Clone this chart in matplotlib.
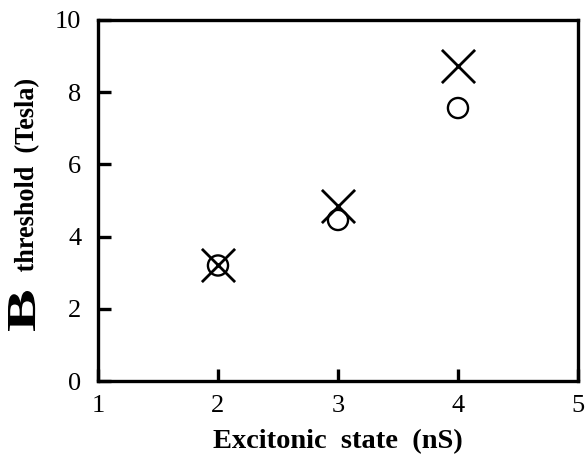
import matplotlib
matplotlib.use("Agg")
import matplotlib.pyplot as plt
from matplotlib.textpath import TextPath
from matplotlib.patches import PathPatch
from matplotlib.font_manager import FontProperties
import matplotlib.transforms as mtransforms

# threshold field vs excitonic state
states = [2, 3, 4]
b_cross = [3.2, 4.85, 8.73]
b_circle = [3.2, 4.46, 7.56]

plt.rcParams['font.family'] = ['Liberation Serif', 'DejaVu Serif']

fig = plt.figure(figsize=(5.85, 4.63), dpi=100)
ax = fig.add_axes([0.1675, 0.177, 0.8205, 0.78])

ax.scatter(states, b_cross, marker='x', s=570, c='black', linewidths=2.0, zorder=3)
ax.scatter(states, b_circle, marker='o', s=210, facecolors='none', edgecolors='black', linewidths=1.7, zorder=3)

ax.set_xlim(1, 5)
ax.set_ylim(0, 10)
ax.set_xticks([1, 2, 3, 4, 5])
ax.set_yticks([0, 2, 4, 6, 8, 10])

for s in ax.spines.values():
    s.set_linewidth(2.4)
ax.tick_params(direction='in', length=9, width=2.4, labelsize=19, top=False, right=False)
ax.tick_params(axis='x', pad=10)
ax.tick_params(axis='y', pad=12)

ax.set_xlabel('Excitonic  state  (nS)', fontsize=20.5, fontweight='bold', labelpad=9)

# y label drawn as rotated text paths so each piece gets its own proportions
bold = FontProperties(family='Liberation Serif', weight='bold')


def vertical_text(s, base_x, y_start, length, cap, ref='T'):
    tp = TextPath((0, 0), s, size=1, prop=bold)
    ext = tp.get_extents()
    cap_h = TextPath((0, 0), ref, size=1, prop=bold).get_extents().y1
    sx = length / ext.width
    sy = cap / cap_h
    tr = (mtransforms.Affine2D()
          .translate(-ext.x0, 0)
          .scale(sx, sy)
          .rotate_deg(90)
          .translate(base_x, y_start))
    fig.patches.append(PathPatch(tr.transform_path(tp), color='black', lw=0,
                                 transform=mtransforms.IdentityTransform(),
                                 figure=fig))


H = 463
vertical_text('B', 35, H - 331, 40, 27, ref='B')
vertical_text('threshold  (Tesla)', 33, H - 272, 192, 18)

fig.savefig('out.png', dpi=100)
